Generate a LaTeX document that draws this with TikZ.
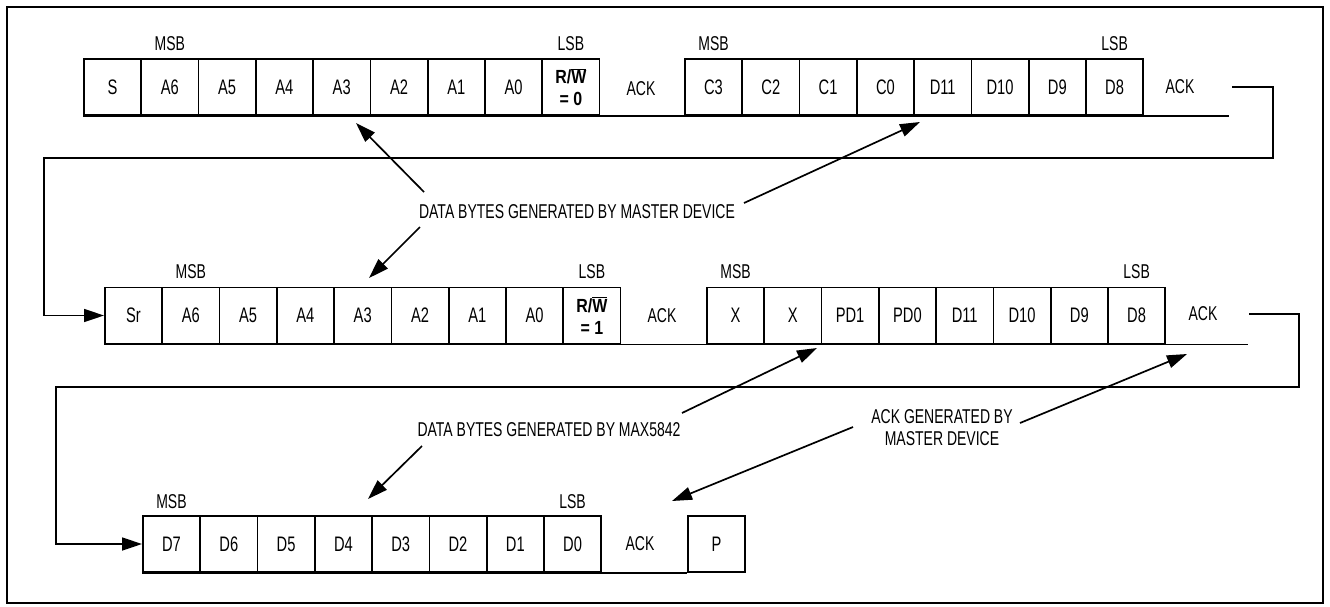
\documentclass[tikz,border=0pt]{standalone}
\usepackage{fontspec}
\setmainfont{Liberation Sans}[FakeStretch=0.7]
\newfontfamily\rwfont{Liberation Sans}[FakeStretch=0.84]
\usetikzlibrary{arrows.meta}
\newcommand{\rwlbl}[1]{\rwfont\bfseries R/$\overline{\mbox{\rwfont\bfseries W}}$\\\rwfont\bfseries = #1}
\begin{document}
\begin{tikzpicture}[x=1pt,y=-1pt,
  bitbox/.style={draw, line width=1.7pt, minimum width=57.3pt, minimum height=56pt, inner sep=0pt, anchor=west, align=center, font=\fontsize{21}{22}\selectfont},
  rwbox/.style={bitbox, font=\fontsize{19}{22}\selectfont},
  conn/.style={line width=1.7pt},
  arr/.style={line width=1.7pt, -{Triangle[length=20pt,width=13pt]}},
  lbl/.style={inner sep=0pt, align=center, font=\fontsize{20}{22}\selectfont}]
\fill[white] (0,0) rectangle (1330,606);
\useasboundingbox (0,0) rectangle (1330,606);
\draw[line width=2pt] (7,7) rectangle (1323,603);

% ---- row 1
\foreach \t [count=\i] in {S,A6,A5,A4,A3,A2,A1,A0}
  \node[bitbox] (a\i) at ({83+(\i-1)*57.3},87) {\t};
\node[rwbox] (a9) at (541.4,87) {\rwlbl{0}};
\foreach \t [count=\i] in {C3,C2,C1,C0,D11,D10,D9,D8}
  \node[bitbox] (c\i) at ({684+(\i-1)*57.3},87) {\t};
\node[lbl] (ack1) at (641,89) {ACK};
\node[lbl] (ack2) at (1180,87) {ACK};
\node[lbl] (msb1) at ([yshift=15pt]a2.north) {MSB};
\node[lbl] (lsb1) at ([yshift=15pt]a9.north) {LSB};
\node[lbl] (msb2) at ([yshift=15pt]c1.north) {MSB};
\node[lbl] (lsb2) at ([yshift=15pt]c8.north) {LSB};
\coordinate (e1) at (1229,0);
\draw[conn] (a1.south west) -- (a1.south west -| e1);

% ---- row 2
\foreach \t [count=\i] in {Sr,A6,A5,A4,A3,A2,A1,A0}
  \node[bitbox] (b\i) at ({104+(\i-1)*57.3},315.5) {\t};
\node[rwbox] (b9) at (562.4,315.5) {\rwlbl{1}};
\foreach \t [count=\i] in {X,X,PD1,PD0,D11,D10,D9,D8}
  \node[bitbox] (x\i) at ({706+(\i-1)*57.3},315.5) {\t};
\node[lbl] (ack3) at (662,315.5) {ACK};
\node[lbl] (ack4) at (1203,314) {ACK};
\node[lbl] (msb3) at ([yshift=15pt]b2.north) {MSB};
\node[lbl] (lsb3) at ([yshift=15pt]b9.north) {LSB};
\node[lbl] (msb4) at ([yshift=15pt]x1.north) {MSB};
\node[lbl] (lsb4) at ([yshift=15pt]x8.north) {LSB};
\coordinate (e2) at (1248,0);
\draw[conn] (b1.south west) -- (b1.south west -| e2);

% ---- row 3
\foreach \t [count=\i] in {D7,D6,D5,D4,D3,D2,D1,D0}
  \node[bitbox] (d\i) at ({142+(\i-1)*57.3},544) {\t};
\node[bitbox] (p) at (687,544) {P};
\node[lbl] (ack5) at (640,544) {ACK};
\node[lbl] (msb5) at ([yshift=14pt]d1.north) {MSB};
\node[lbl] (lsb5) at ([yshift=14pt]d8.north) {LSB};
\draw[conn] (d1.south west) -- (p.south west);

% ---- loop connectors
\coordinate (l1s) at (1232,87);
\coordinate (l1r) at (1273,87);
\coordinate (l1d) at (1273,158);
\coordinate (l1l) at (44,158);
\draw[arr] (l1s) -- (l1r) -- (l1d) -- (l1l) |- (b1.west);
\coordinate (l2s) at (1249,314);
\coordinate (l2r) at (1299,314);
\coordinate (l2d) at (1299,387);
\coordinate (l2l) at (56,387);
\draw[arr] (l2s) -- (l2r) -- (l2d) -- (l2l) |- (d1.west);

% ---- annotations
\node[lbl] (mst) at (577,212) {DATA BYTES GENERATED BY MASTER DEVICE};
\node[lbl] (max) at (549,430) {DATA BYTES GENERATED BY MAX5842};
\node[lbl] (ackm) at (942,428) {ACK GENERATED BY\\MASTER DEVICE};

\coordinate (s1) at (424,192); \coordinate (t1) at (356,123);
\coordinate (s2) at (744,203); \coordinate (t2) at (920,122);
\coordinate (s3) at (420,227); \coordinate (t3) at (369,278);
\coordinate (s4) at (682,413); \coordinate (t4) at (817,348);
\coordinate (s5) at (1020,423); \coordinate (t5) at (1187,354);
\coordinate (s6) at (422,446); \coordinate (t6) at (368,499);
\coordinate (s7) at (853,427); \coordinate (t7) at (672,501);
\draw[arr] (s1) -- (t1);
\draw[arr] (s2) -- (t2);
\draw[arr] (s3) -- (t3);
\draw[arr] (s4) -- (t4);
\draw[arr] (s5) -- (t5);
\draw[arr] (s6) -- (t6);
\draw[arr] (s7) -- (t7);
\end{tikzpicture}
\end{document}
